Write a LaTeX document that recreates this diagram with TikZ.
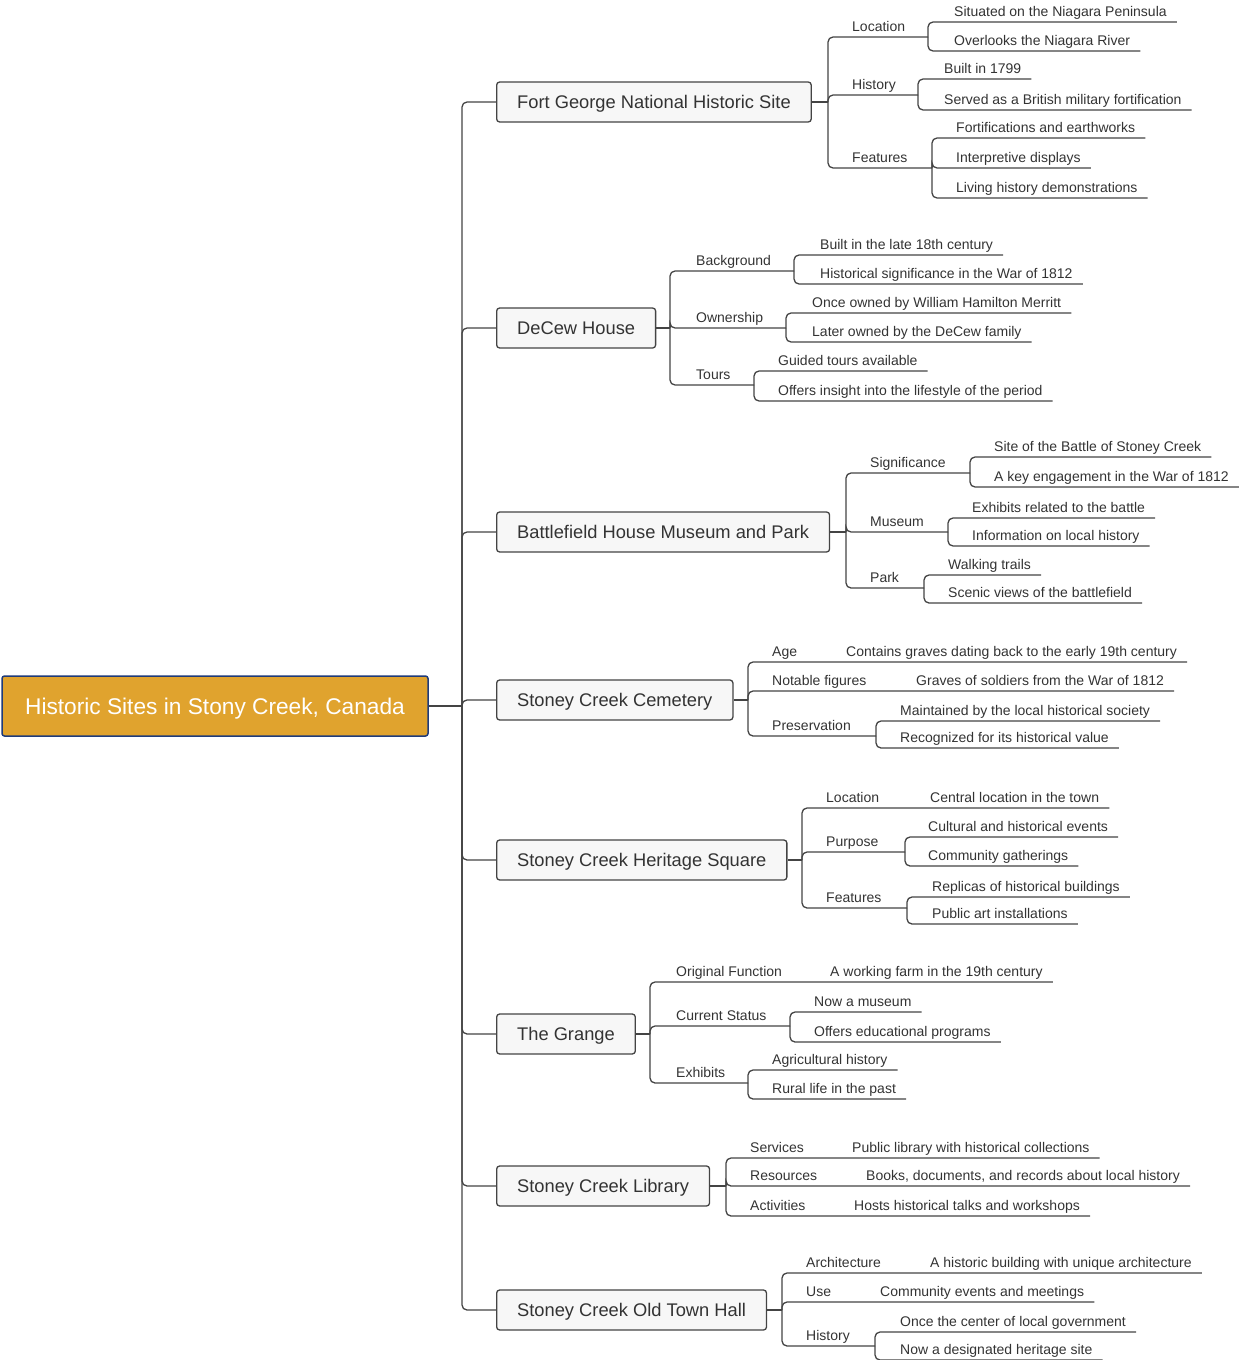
\documentclass[tikz,border=0pt]{standalone}
\usepackage{fontspec}
\setmainfont{Liberation Sans}
\usetikzlibrary{calc}
\definecolor{rootgold}{HTML}{E0A32E}
\definecolor{rootedge}{HTML}{1F3B7A}
\definecolor{boxfill}{HTML}{F7F7F7}
\definecolor{inkgray}{HTML}{333333}
\definecolor{wiregray}{HTML}{444444}
\tikzset{
    rootbox/.style={draw=rootedge, fill=rootgold, line width=1.5pt, rounded corners=2.5pt,
        minimum width=426pt, minimum height=60pt, text height=16pt, text depth=0pt,
        text=white, font=\fontsize{22.7}{27}\selectfont},
    sitebox/.style={draw=wiregray, fill=boxfill, line width=1.3pt, rounded corners=3pt,
        anchor=west, minimum height=40pt, inner xsep=20.5pt, text height=13pt, text depth=0pt,
        text=inkgray, font=\fontsize{18.3}{22}\selectfont},
    topic/.style={anchor=south west, xshift=-10pt, inner xsep=10pt, inner ysep=5pt,
        text depth=0pt, text=inkgray, font=\fontsize{14}{17}\selectfont},
    detail/.style={topic},
    link/.style={draw=wiregray, line width=1.3pt, rounded corners=5pt},
}

\begin{document}
\begin{tikzpicture}[x=1pt,y=-1pt]
    \useasboundingbox (0,0) rectangle (1240,1360);

    \node[rootbox] (root) at (215,706) {Historic Sites in Stony Creek, Canada};
    \coordinate (trunk) at (462,706);
    \draw[link] (root.east) -- (trunk);

    \node[sitebox] (fg) at (496,102) {Fort George National Historic Site};
    \node[sitebox] (dc) at (496,328) {DeCew House};
    \node[sitebox] (bf) at (496,532) {Battlefield House Museum and Park};
    \node[sitebox] (cm) at (496,700) {Stoney Creek Cemetery};
    \node[sitebox] (hs) at (496,860) {Stoney Creek Heritage Square};
    \node[sitebox] (gr) at (496,1034) {The Grange};
    \node[sitebox] (lb) at (496,1186) {Stoney Creek Library};
    \node[sitebox] (th) at (496,1310) {Stoney Creek Old Town Hall};
    \foreach \s in {fg,dc,bf,cm,hs,gr,lb,th}
        \draw[link] (trunk) |- (\s.west);

    % Fort George
    \coordinate (fgj) at (828,102);
    \draw[link] (fg.east) -- (fgj);
    \node[topic] (fgloc) at (852,37) {Location};
    \coordinate (fglocj) at (928,37);
    \draw[link] (fgj) |- (fglocj);
    \node[detail] (fgloc1) at (954,22) {Situated on the Niagara Peninsula};
    \node[detail] (fgloc2) at (954,51) {Overlooks the Niagara River};
    \draw[link] (fglocj) |- (fgloc1.south east);
    \draw[link] (fglocj) |- (fgloc2.south east);
    \node[topic] (fghis) at (852,95) {History};
    \coordinate (fghisj) at (918,95);
    \draw[link] (fgj) |- (fghisj);
    \node[detail] (fghis1) at (944,79) {Built in 1799};
    \node[detail] (fghis2) at (944,110) {Served as a British military fortification};
    \draw[link] (fghisj) |- (fghis1.south east);
    \draw[link] (fghisj) |- (fghis2.south east);
    \node[topic] (fgfea) at (852,168) {Features};
    \coordinate (fgfeaj) at (932,168);
    \draw[link] (fgj) |- (fgfeaj);
    \node[detail] (fgfea1) at (956,138) {Fortifications and earthworks};
    \node[detail] (fgfea2) at (956,168) {Interpretive displays};
    \node[detail] (fgfea3) at (956,198) {Living history demonstrations};
    \draw[link] (fgfeaj) |- (fgfea1.south east);
    \draw[link] (fgfeaj) |- (fgfea2.south east);
    \draw[link] (fgfeaj) |- (fgfea3.south east);

    % DeCew House
    \coordinate (dcj) at (670,328);
    \draw[link] (dc.east) -- (dcj);
    \node[topic] (dcbac) at (696,271) {Background};
    \coordinate (dcbacj) at (794,271);
    \draw[link] (dcj) |- (dcbacj);
    \node[detail] (dcbac1) at (820,255) {Built in the late 18th century};
    \node[detail] (dcbac2) at (820,284) {Historical significance in the War of 1812};
    \draw[link] (dcbacj) |- (dcbac1.south east);
    \draw[link] (dcbacj) |- (dcbac2.south east);
    \node[topic] (dcown) at (696,328) {Ownership};
    \coordinate (dcownj) at (786,328);
    \draw[link] (dcj) |- (dcownj);
    \node[detail] (dcown1) at (812,313) {Once owned by William Hamilton Merritt};
    \node[detail] (dcown2) at (812,342) {Later owned by the DeCew family};
    \draw[link] (dcownj) |- (dcown1.south east);
    \draw[link] (dcownj) |- (dcown2.south east);
    \node[topic] (dctou) at (696,385) {Tours};
    \coordinate (dctouj) at (754,385);
    \draw[link] (dcj) |- (dctouj);
    \node[detail] (dctou1) at (778,371) {Guided tours available};
    \node[detail] (dctou2) at (778,401) {Offers insight into the lifestyle of the period};
    \draw[link] (dctouj) |- (dctou1.south east);
    \draw[link] (dctouj) |- (dctou2.south east);

    % Battlefield House
    \coordinate (bfj) at (846,532);
    \draw[link] (bf.east) -- (bfj);
    \node[topic] (bfsig) at (870,473) {Significance};
    \coordinate (bfsigj) at (970,473);
    \draw[link] (bfj) |- (bfsigj);
    \node[detail] (bfsig1) at (994,457) {Site of the Battle of Stoney Creek};
    \node[detail] (bfsig2) at (994,487) {A key engagement in the War of 1812};
    \draw[link] (bfsigj) |- (bfsig1.south east);
    \draw[link] (bfsigj) |- (bfsig2.south east);
    \node[topic] (bfmus) at (870,532) {Museum};
    \coordinate (bfmusj) at (948,532);
    \draw[link] (bfj) |- (bfmusj);
    \node[detail] (bfmus1) at (972,518) {Exhibits related to the battle};
    \node[detail] (bfmus2) at (972,546) {Information on local history};
    \draw[link] (bfmusj) |- (bfmus1.south east);
    \draw[link] (bfmusj) |- (bfmus2.south east);
    \node[topic] (bfpar) at (870,588) {Park};
    \coordinate (bfparj) at (924,588);
    \draw[link] (bfj) |- (bfparj);
    \node[detail] (bfpar1) at (948,575) {Walking trails};
    \node[detail] (bfpar2) at (948,603) {Scenic views of the battlefield};
    \draw[link] (bfparj) |- (bfpar1.south east);
    \draw[link] (bfparj) |- (bfpar2.south east);

    % Cemetery
    \coordinate (cmj) at (748,700);
    \draw[link] (cm.east) -- (cmj);
    \node[topic] (cmage) at (772,662) {Age};
    \node[detail] (cmage1) at (846,662) {Contains graves dating back to the early 19th century};
    \draw[link] (cmj) |- (cmage1.south east);
    \node[topic] (cmnot) at (772,691) {Notable figures};
    \node[detail] (cmnot1) at (916,691) {Graves of soldiers from the War of 1812};
    \draw[link] (cmj) |- (cmnot1.south east);
    \node[topic] (cmpre) at (772,736) {Preservation};
    \coordinate (cmprej) at (876,736);
    \draw[link] (cmj) |- (cmprej);
    \node[detail] (cmpre1) at (900,721) {Maintained by the local historical society};
    \node[detail] (cmpre2) at (900,748) {Recognized for its historical value};
    \draw[link] (cmprej) |- (cmpre1.south east);
    \draw[link] (cmprej) |- (cmpre2.south east);

    % Heritage Square
    \coordinate (hsj) at (802,860);
    \draw[link] (hs.east) -- (hsj);
    \node[topic] (hsloc) at (826,808) {Location};
    \node[detail] (hsloc1) at (930,808) {Central location in the town};
    \draw[link] (hsj) |- (hsloc1.south east);
    \node[topic] (hspur) at (826,852) {Purpose};
    \coordinate (hspurj) at (905,852);
    \draw[link] (hsj) |- (hspurj);
    \node[detail] (hspur1) at (928,837) {Cultural and historical events};
    \node[detail] (hspur2) at (928,866) {Community gatherings};
    \draw[link] (hspurj) |- (hspur1.south east);
    \draw[link] (hspurj) |- (hspur2.south east);
    \node[topic] (hsfea) at (826,908) {Features};
    \coordinate (hsfeaj) at (907,908);
    \draw[link] (hsj) |- (hsfeaj);
    \node[detail] (hsfea1) at (932,897) {Replicas of historical buildings};
    \node[detail] (hsfea2) at (932,924) {Public art installations};
    \draw[link] (hsfeaj) |- (hsfea1.south east);
    \draw[link] (hsfeaj) |- (hsfea2.south east);

    % The Grange
    \coordinate (grj) at (650,1034);
    \draw[link] (gr.east) -- (grj);
    \node[topic] (grori) at (676,982) {Original Function};
    \node[detail] (grori1) at (830,982) {A working farm in the 19th century};
    \draw[link] (grj) |- (grori1.south east);
    \node[topic] (grcur) at (676,1026) {Current Status};
    \coordinate (grcurj) at (790,1026);
    \draw[link] (grj) |- (grcurj);
    \node[detail] (grcur1) at (814,1012) {Now a museum};
    \node[detail] (grcur2) at (814,1042) {Offers educational programs};
    \draw[link] (grcurj) |- (grcur1.south east);
    \draw[link] (grcurj) |- (grcur2.south east);
    \node[topic] (grexh) at (676,1083) {Exhibits};
    \coordinate (grexhj) at (748,1083);
    \draw[link] (grj) |- (grexhj);
    \node[detail] (grexh1) at (772,1070) {Agricultural history};
    \node[detail] (grexh2) at (772,1099) {Rural life in the past};
    \draw[link] (grexhj) |- (grexh1.south east);
    \draw[link] (grexhj) |- (grexh2.south east);

    % Library
    \coordinate (lbj) at (726,1186);
    \draw[link] (lb.east) -- (lbj);
    \node[topic] (lbser) at (750,1158) {Services};
    \node[detail] (lbser1) at (852,1158) {Public library with historical collections};
    \draw[link] (lbj) |- (lbser1.south east);
    \node[topic] (lbres) at (750,1186) {Resources};
    \node[detail] (lbres1) at (866,1186) {Books, documents, and records about local history};
    \draw[link] (lbj) |- (lbres1.south east);
    \node[topic] (lbact) at (750,1216) {Activities};
    \node[detail] (lbact1) at (854,1216) {Hosts historical talks and workshops};
    \draw[link] (lbj) |- (lbact1.south east);

    % Old Town Hall
    \coordinate (thj) at (782,1310);
    \draw[link] (th.east) -- (thj);
    \node[topic] (tharc) at (806,1273) {Architecture};
    \node[detail] (tharc1) at (930,1273) {A historic building with unique architecture};
    \draw[link] (thj) |- (tharc1.south east);
    \node[topic] (thuse) at (806,1302) {Use};
    \node[detail] (thuse1) at (880,1302) {Community events and meetings};
    \draw[link] (thj) |- (thuse1.south east);
    \node[topic] (thhis) at (806,1346) {History};
    \coordinate (thhisj) at (875,1346);
    \draw[link] (thj) |- (thhisj);
    \node[detail] (thhis1) at (900,1332) {Once the center of local government};
    \node[detail] (thhis2) at (900,1360) {Now a designated heritage site};
    \draw[link] (thhisj) |- (thhis1.south east);
    \draw[link] (thhisj) |- (thhis2.south east);
\end{tikzpicture}
\end{document}
